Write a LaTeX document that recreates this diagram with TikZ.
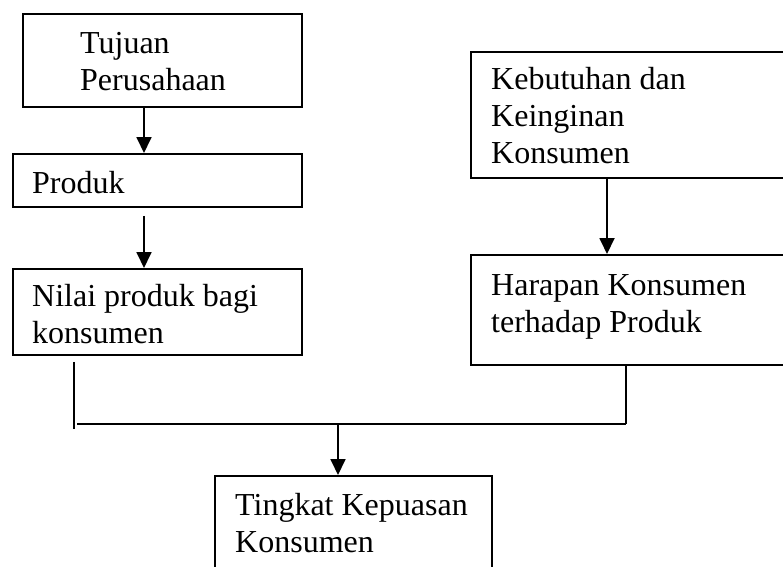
\documentclass[tikz,border=0pt]{standalone}
\usepackage{fontspec}
\setmainfont{Liberation Serif}
\usetikzlibrary{arrows.meta}
\begin{document}
\begin{tikzpicture}[x=1pt,y=-1pt,
  box/.style={draw,line width=1.8pt,rectangle,inner sep=0pt,anchor=north west},
  txt/.style={anchor=base west,inner sep=0pt,align=left,font=\fontsize{32}{37}\selectfont},
  arr/.style={line width=1.8pt,-{Triangle[width=15pt,length=16pt]}},
  ln/.style={line width=1.8pt}]
\useasboundingbox (0,0) rectangle (783,566);
% boxes
\node[box,minimum width=279pt,minimum height=93pt] (b1) at (22,13) {};
\node[box,minimum width=289pt,minimum height=53pt] (b2) at (12,153) {};
\node[box,minimum width=289pt,minimum height=86pt] (b3) at (12,268) {};
\node[box,minimum width=330pt,minimum height=126pt] (b4) at (470,51) {};
\node[box,minimum width=330pt,minimum height=110pt] (b5) at (470,254) {};
\node[box,minimum width=277pt,minimum height=110pt] (b6) at (214,475) {};
% texts (anchored at the baseline of the last line)
\node[txt] (t1) at (80,90) {Tujuan\\Perusahaan};
\node[txt] (t2) at (32,193) {Produk};
\node[txt] (t3) at (32,343) {Nilai produk bagi\\konsumen};
\node[txt] (t4) at (491,163) {Kebutuhan dan\\Keinginan\\Konsumen};
\node[txt] (t5) at (491,332) {Harapan Konsumen\\terhadap Produk};
\node[txt] (t6) at (235,552) {Tingkat Kepuasan\\Konsumen};
% connector positions
\coordinate (xa) at (144,0);
\coordinate (xb) at (607,0);
\coordinate (xl) at (74,0);
\coordinate (xr) at (626,0);
\coordinate (xm) at (338,0);
\coordinate (yj) at (0,424);
\coordinate (jl) at (xl |- yj);
\coordinate (jr) at (xr |- yj);
\coordinate (jm) at (xm |- yj);
% arrows
\draw[arr] (xa |- b1.south) -- (xa |- b2.north);
\draw[arr,shorten <=8pt] (xa |- b2.south) -- (xa |- b3.north);
\draw[arr] (xb |- b4.south) -- (xb |- b5.north);
\draw[ln,shorten <=6pt] (xl |- b3.south) -- ([yshift=-5pt]jl);
\draw[ln] ([xshift=3pt]jl) -- (jr);
\draw[ln] (xr |- b5.south) -- (jr);
\draw[arr] (jm) -- (xm |- b6.north);
\end{tikzpicture}
\end{document}
